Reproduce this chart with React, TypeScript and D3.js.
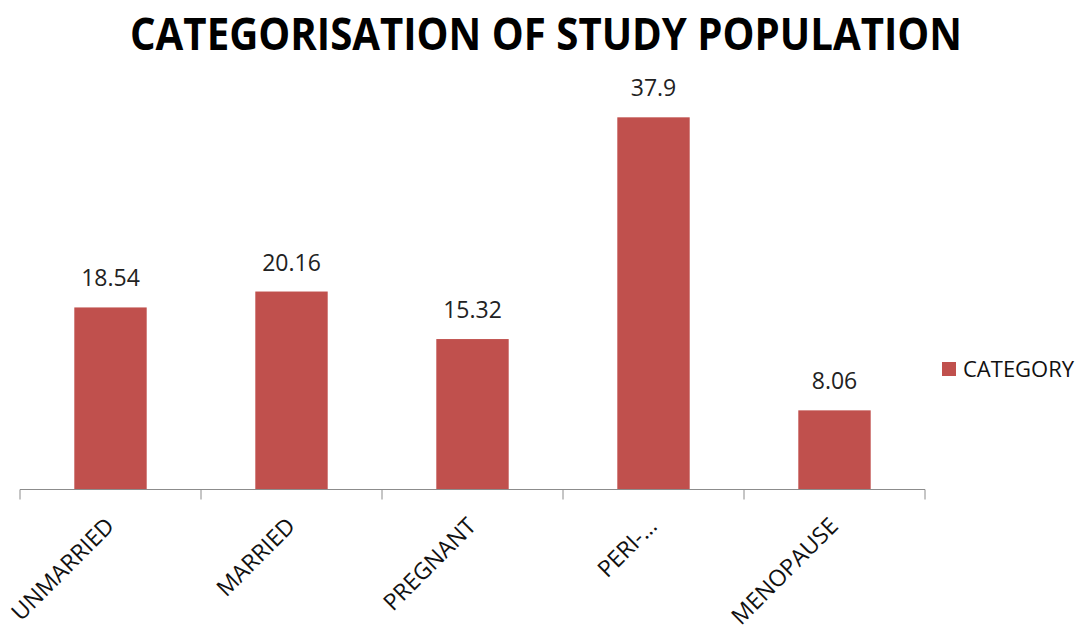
import React from "react";
import * as d3 from "d3";

const categories: string[] = ["UNMARRIED", "MARRIED", "PREGNANT", "PERI-…", "MENOPAUSE"];
const values: number[] = [18.54, 20.16, 15.32, 37.9, 8.06];
const valueLabels: string[] = ["18.54", "20.16", "15.32", "37.9", "8.06"];
const seriesName = "CATEGORY";
const title = "CATEGORISATION OF STUDY POPULATION";

const W = 1081;
const H = 633;
const FONT = "'Open Sans', 'Noto Sans', sans-serif";
const BAR = "#C0504D";

export default function App() {
  const axisY = 489.5;
  const x = d3.scaleBand<string>().domain(categories).range([20, 925]).paddingInner(0).paddingOuter(0);
  const y = d3.scaleLinear().domain([0, 40]).range([axisY, axisY - 40 * 9.82]);
  const bw = x.bandwidth();
  const barW = bw / 2.5;
  const ticks = [...categories.map((c) => x(c) as number), 925];

  return (
    <svg width={W} height={H} style={{ position: "absolute", left: 0, top: 0, background: "#fff" }}>
      <text
        x={546}
        y={50}
        textAnchor="middle"
        fontFamily={FONT}
        fontWeight="bold"
        fontSize={45}
        textLength={832}
        lengthAdjust="spacingAndGlyphs"
        fill="#000"
      >
        {title}
      </text>
      {categories.map((c, i) => {
        const cx = (x(c) as number) + bw / 2;
        return (
          <g key={c}>
            <rect x={cx - barW / 2} y={y(values[i])} width={barW} height={axisY - y(values[i])} fill={BAR} />
            <text x={cx} y={y(values[i]) - 21} textAnchor="middle" fontFamily={FONT} fontSize={23} fill="#222">
              {valueLabels[i]}
            </text>
            <text
              transform={`translate(${cx + 5},${axisY + 38}) rotate(-45)`}
              textAnchor="end"
              fontFamily={FONT}
              fontSize={23}
              fill="#111"
            >
              {c}
            </text>
          </g>
        );
      })}
      <line x1={20} x2={925} y1={axisY} y2={axisY} stroke="#8c8c8c" strokeWidth={1} />
      {ticks.map((t, i) => (
        <line key={i} x1={t} x2={t} y1={axisY} y2={axisY + 10} stroke="#8c8c8c" strokeWidth={1} />
      ))}
      <rect x={942} y={362} width={14} height={14} fill={BAR} />
      <text x={963} y={377} fontFamily={FONT} fontSize={22} fill="#111">
        {seriesName}
      </text>
    </svg>
  );
}
